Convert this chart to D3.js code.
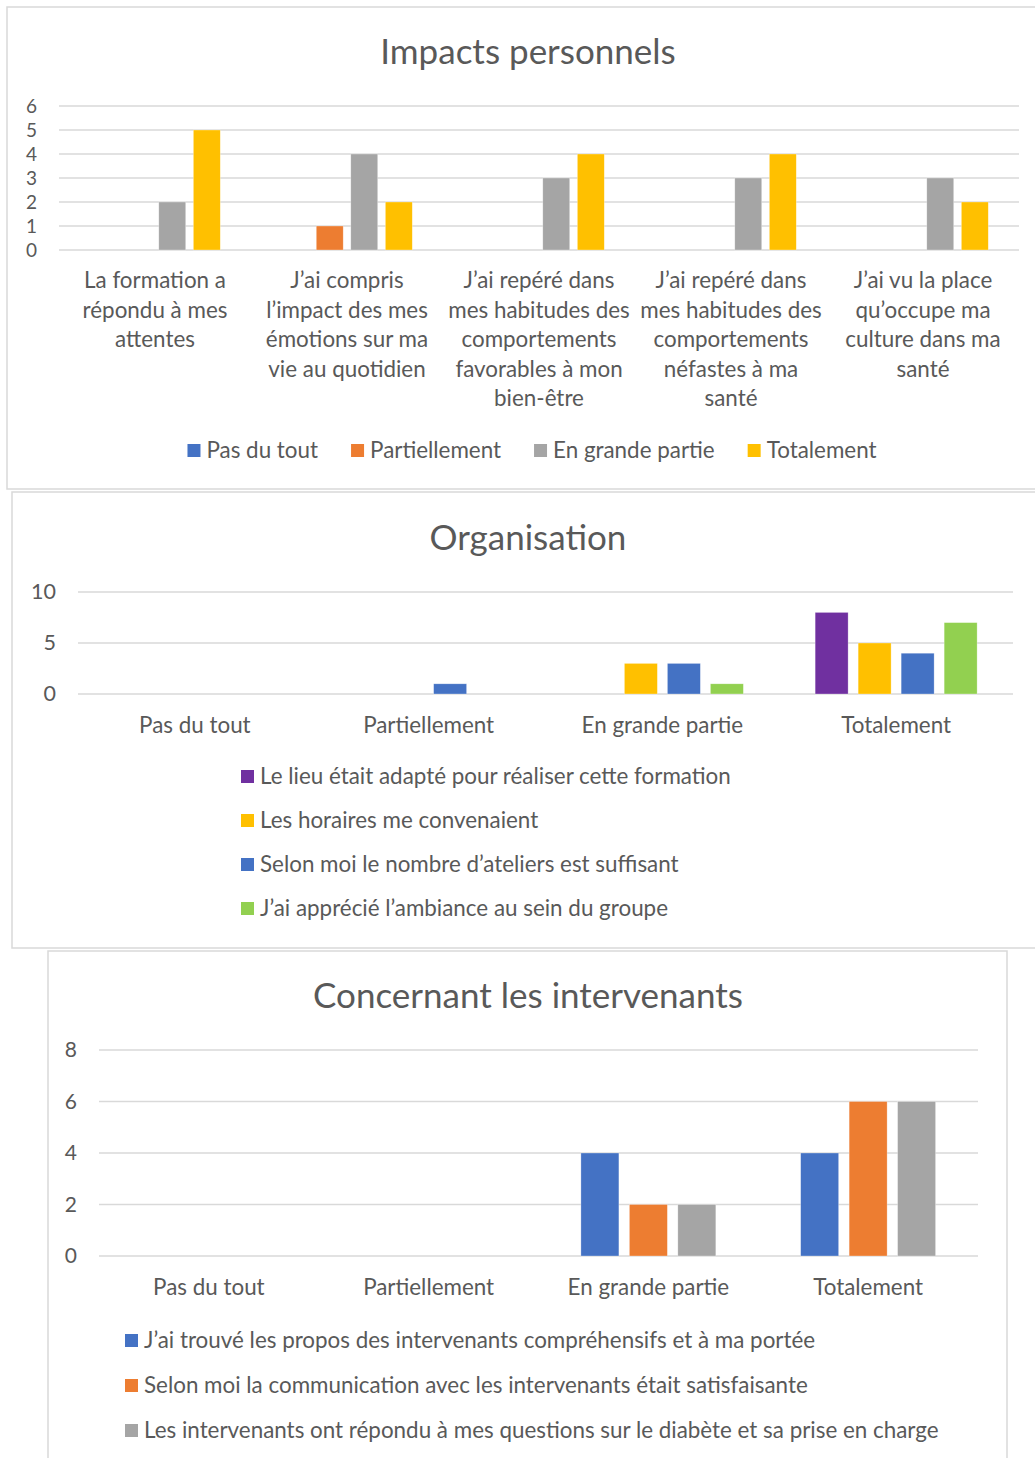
<!DOCTYPE html>
<html>
<head>
<meta charset="utf-8">
<script src="https://cdn.jsdelivr.net/npm/d3@7"></script>
<style>
  html, body { margin: 0; padding: 0; background: #ffffff; }
  svg { display: block; }
  text { font-family: Lato, "Open Sans", sans-serif; fill: #595959; }
</style>
</head>
<body>
<svg id="chart" width="1035" height="1458"></svg>
<script>
// ---- Impacts personnels ----
const impactCategories = [
  "La formation a\nrépondu à mes\nattentes",
  "J’ai compris\nl’impact des mes\némotions sur ma\nvie au quotidien",
  "J’ai repéré dans\nmes habitudes des\ncomportements\nfavorables à mon\nbien-être",
  "J’ai repéré dans\nmes habitudes des\ncomportements\nnéfastes à ma\nsanté",
  "J’ai vu la place\nqu’occupe ma\nculture dans ma\nsanté"
];
const impactSeries = ["Pas du tout", "Partiellement", "En grande partie", "Totalement"];
const impactPasDuTout     = [0, 0, 0, 0, 0];
const impactPartiellement = [0, 1, 0, 0, 0];
const impactEnGrandePartie = [2, 4, 3, 3, 3];
const impactTotalement    = [5, 2, 4, 4, 2];
const impactTicks = [0, 1, 2, 3, 4, 5, 6];

// ---- Organisation ----
const orgCategories = ["Pas du tout", "Partiellement", "En grande partie", "Totalement"];
const orgSeries = [
  "Le lieu était adapté pour réaliser cette formation",
  "Les horaires me convenaient",
  "Selon moi le nombre d’ateliers est suffisant",
  "J’ai apprécié l’ambiance au sein du groupe"
];
const orgLieu      = [0, 0, 0, 8];
const orgHoraires  = [0, 0, 3, 5];
const orgAteliers  = [0, 1, 3, 4];
const orgAmbiance  = [0, 0, 1, 7];
const orgTicks = [0, 5, 10];

// ---- Concernant les intervenants ----
const intCategories = ["Pas du tout", "Partiellement", "En grande partie", "Totalement"];
const intSeries = [
  "J’ai trouvé les propos des intervenants compréhensifs et à ma portée",
  "Selon moi la communication avec les intervenants était satisfaisante",
  "Les intervenants ont répondu à mes questions sur le diabète et sa prise en charge"
];
const intPropos        = [0, 0, 4, 4];
const intCommunication = [0, 0, 2, 6];
const intQuestions     = [0, 0, 2, 6];
const intTicks = [0, 2, 4, 6, 8];

const BLUE = "#4472c4", ORANGE = "#ed7d31", GRAY = "#a5a5a5", GOLD = "#ffc000",
      PURPLE = "#7030a0", GREEN = "#92d050";

const FS = 22.4;      // body text size
const TITLE_FS = 35;  // chart title size

const svg = d3.select("#chart");

function drawPanel(cfg) {
  const g = svg.append("g");

  // frame
  g.append("rect")
    .attr("x", cfg.frame[0]).attr("y", cfg.frame[1])
    .attr("width", cfg.frame[2]).attr("height", cfg.frame[3])
    .attr("fill", "#fff").attr("stroke", "#d9d9d9").attr("stroke-width", 1.5);

  // title
  g.append("text")
    .attr("x", cfg.titleX).attr("y", cfg.titleY)
    .attr("text-anchor", "middle")
    .style("font-size", TITLE_FS + "px")
    .text(cfg.title);

  const x0 = d3.scaleBand()
    .domain(cfg.categories)
    .range(cfg.xRange)
    .paddingInner(cfg.groupPad)
    .paddingOuter(cfg.groupPad / 2);

  const x1 = d3.scaleBand()
    .domain(cfg.series)
    .range([0, x0.bandwidth()])
    .paddingInner(cfg.barPad);

  const y = d3.scaleLinear().domain(cfg.yDomain).range(cfg.yRange);

  // value axis labels
  const yAxis = d3.axisLeft(y).tickValues(cfg.ticks).tickFormat(d3.format("d"))
    .tickSize(0).tickPadding(0);
  const ax = g.append("g")
    .attr("transform", `translate(${cfg.tickX},0)`)
    .call(yAxis);
  ax.select(".domain").remove();
  ax.selectAll("text")
    .attr("fill", "#595959")
    .style("font-family", "Lato, 'Open Sans', sans-serif")
    .style("font-size", cfg.tickSize + "px");

  // gridlines
  g.append("g").selectAll("line")
    .data(cfg.ticks)
    .join("line")
    .attr("x1", cfg.xRange[0]).attr("x2", cfg.xRange[1])
    .attr("y1", d => y(d)).attr("y2", d => y(d))
    .attr("stroke", "#d9d9d9").attr("stroke-width", 1.5);

  // bars
  const rows = [];
  cfg.categories.forEach((c, i) => {
    cfg.series.forEach((s, j) => {
      rows.push({ cat: c, ser: s, value: cfg.values[j][i], color: cfg.colors[j] });
    });
  });
  g.append("g").selectAll("rect")
    .data(rows.filter(d => d.value > 0))
    .join("rect")
    .attr("x", d => x0(d.cat) + x1(d.ser))
    .attr("width", x1.bandwidth())
    .attr("y", d => y(d.value))
    .attr("height", d => y(0) - y(d.value))
    .attr("fill", d => d.color)
    .attr("stroke", "#ffffff").attr("stroke-opacity", 0.5).attr("stroke-width", 0.6);

  // category labels
  const catG = g.append("g");
  cfg.categories.forEach(c => {
    const t = catG.append("text")
      .attr("text-anchor", "middle")
      .style("font-size", FS + "px");
    c.split("\n").forEach((line, k) => {
      t.append("tspan")
        .attr("x", x0(c) + x0.bandwidth() / 2)
        .attr("y", cfg.labelY + k * cfg.labelLine)
        .text(line);
    });
  });

  // legend
  const lg = g.append("g");
  if (cfg.legendHorizontal) {
    const items = cfg.series.map((s, j) => {
      const it = lg.append("g");
      it.append("rect").attr("width", 13).attr("height", 13).attr("y", cfg.legendY - 14)
        .attr("fill", cfg.colors[j]);
      const tx = it.append("text").attr("x", 19).attr("y", cfg.legendY)
        .style("font-size", FS + "px").text(s);
      return { it, w: 19 + tx.node().getComputedTextLength() };
    });
    const gap = 33;
    const total = d3.sum(items, d => d.w) + gap * (items.length - 1);
    let cx = cfg.legendCenter - total / 2;
    items.forEach(d => { d.it.attr("transform", `translate(${cx},0)`); cx += d.w + gap; });
  } else {
    cfg.series.forEach((s, j) => {
      const yy = cfg.legendY + j * cfg.legendStep;
      lg.append("rect").attr("x", cfg.legendX).attr("y", yy - 14)
        .attr("width", 13).attr("height", 13).attr("fill", cfg.colors[j]);
      lg.append("text").attr("x", cfg.legendX + 19).attr("y", yy)
        .style("font-size", FS + "px").text(s);
    });
  }
}

drawPanel({
  frame: [7, 7, 1040, 482],
  title: "Impacts personnels", titleX: 528, titleY: 64,
  categories: impactCategories, series: impactSeries,
  values: [impactPasDuTout, impactPartiellement, impactEnGrandePartie, impactTotalement],
  colors: [BLUE, ORANGE, GRAY, GOLD],
  xRange: [59, 1019], groupPad: 0.32, barPad: 0.22,
  yDomain: [0, 6], yRange: [250, 106], ticks: impactTicks, tickX: 37, tickSize: 19,
  labelY: 288, labelLine: 29.5,
  legendHorizontal: true, legendY: 458, legendCenter: 532
});

drawPanel({
  frame: [12, 492, 1040, 456],
  title: "Organisation", titleX: 528, titleY: 550,
  categories: orgCategories, series: orgSeries,
  values: [orgLieu, orgHoraires, orgAteliers, orgAmbiance],
  colors: [PURPLE, GOLD, BLUE, GREEN],
  xRange: [78, 1013], groupPad: 0.307, barPad: 0.233,
  yDomain: [0, 10], yRange: [694, 592], ticks: orgTicks, tickX: 56, tickSize: 21.5,
  labelY: 733, labelLine: 29.5,
  legendHorizontal: false, legendX: 241, legendY: 784, legendStep: 44
});

drawPanel({
  frame: [48, 951, 959, 520],
  title: "Concernant les intervenants", titleX: 528, titleY: 1008,
  categories: intCategories, series: intSeries,
  values: [intPropos, intCommunication, intQuestions],
  colors: [BLUE, ORANGE, GRAY],
  xRange: [99, 978], groupPad: 0.386, barPad: 0.216,
  yDomain: [0, 8], yRange: [1256, 1050], ticks: intTicks, tickX: 77, tickSize: 21,
  labelY: 1295, labelLine: 29.5,
  legendHorizontal: false, legendX: 125, legendY: 1348, legendStep: 45
});
</script>
</body>
</html>
